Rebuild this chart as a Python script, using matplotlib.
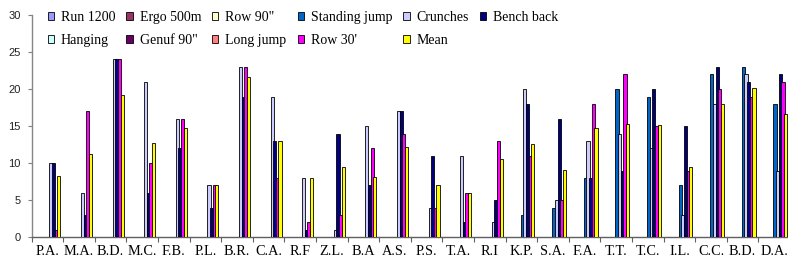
import matplotlib
matplotlib.use("Agg")
import matplotlib.pyplot as plt
from matplotlib.patches import Patch
import numpy as np

categories = ["P.A.", "M.A.", "B.D.", "M.C.", "F.B.", "P.L.", "B.R.", "C.A.", "R.F", "Z.L.",
              "B.A", "A.S.", "P.S.", "T.A.", "R.I", "K.P.", "S.A.", "F.A.", "T.T.", "T.C.",
              "I.L.", "C.C.", "B.D.", "D.A."]

series_names = ["Run 1200", "Ergo 500m", "Row 90\"", "Hanging", "Genuf 90\"", "Long jump",
                "Standing jump", "Crunches", "Bench back", "Row 30'", "Mean"]
series_colors = ["#9999FF", "#993366", "#FFFFCC", "#CCFFFF", "#660066", "#FF8080",
                 "#0066CC", "#CCCCFF", "#000080", "#FF00FF", "#FFFF00"]

run_1200 = [0] * 24
ergo_500m = [0] * 24
row_90 = [0] * 24
hanging = [0] * 24
genuf_90 = [0] * 24
long_jump = [0] * 24
standing_jump = [0, 0, 0, 0, 0, 0, 0, 0, 0, 0, 0, 0, 0, 0, 0, 3, 4, 8, 20, 19, 7, 22, 23, 18]
crunches = [10, 6, 24, 21, 16, 7, 23, 19, 8, 1, 15, 17, 4, 11, 2, 20, 5, 13, 14, 12, 3, 18, 22, 9]
bench_back = [10, 3, 24, 6, 12, 4, 19, 13, 1, 14, 7, 17, 11, 2, 5, 18, 16, 8, 9, 20, 15, 23, 21, 22]
row_30 = [1, 17, 24, 10, 16, 7, 23, 8, 2, 3, 12, 14, 4, 6, 13, 11, 5, 18, 22, 15, 9, 20, 19, 21]
mean = [8.3, 11.2, 19.2, 12.7, 14.7, 7.1, 21.6, 13.0, 8.0, 9.45, 8.1, 12.2, 7.0, 6.0, 10.6, 12.55,
        9.05, 14.7, 15.3, 15.2, 9.45, 18.0, 20.1, 16.7]

all_series = [run_1200, ergo_500m, row_90, hanging, genuf_90, long_jump,
              standing_jump, crunches, bench_back, row_30, mean]

W, H = 788, 263
fig = plt.figure(figsize=(W / 100, H / 100), dpi=100)
ax = fig.add_axes([31.7 / W, (H - 237.3) / H, (790 - 31.7) / W, (237.3 - 15) / H])

x = np.arange(len(categories))
bar_w = 0.1
step = 0.084
for k, (vals, col) in enumerate(zip(all_series, series_colors)):
    lws = [0.6 if v > 0 else 0 for v in vals]
    ax.bar(x + 0.025 + (k - 6) * step, vals, width=bar_w, color=col,
           edgecolor="black", linewidth=lws, zorder=2 + k)

ax.set_xlim(-0.5, len(categories) - 0.5)
ax.set_ylim(0, 30)
ax.set_yticks(range(0, 31, 5))
ax.set_xticks(x)
ax.set_xticklabels(categories, fontfamily="Liberation Serif", fontsize=10.3)
ax.set_xticks(np.arange(len(categories) + 1) - 0.5, minor=True)
ax.tick_params(axis="x", which="major", length=0, pad=5.5)
ax.tick_params(axis="x", which="minor", length=3.5, width=0.8, color="#606060", direction="out")
ax.tick_params(axis="y", length=3, width=0.8, color="#808080", pad=5, labelsize=8)
for lab in ax.get_yticklabels():
    lab.set_fontfamily("Liberation Sans")
    lab.set_color("#222222")

for s in ["top", "right"]:
    ax.spines[s].set_visible(False)
ax.spines["left"].set_color("#868686")
ax.spines["left"].set_linewidth(1.0)
ax.spines["bottom"].set_color("#606060")
ax.spines["bottom"].set_linewidth(1.0)

order = [0, 3, 1, 4, 2, 5, 6, 9, 7, 10, 8]
handles = [Patch(facecolor=series_colors[i], edgecolor="black", linewidth=0.6) for i in order]
labels = [series_names[i] for i in order]
leg = fig.legend(handles, labels, ncol=6, loc="upper left",
                 bbox_to_anchor=(47.5 / W, 1 - 11 / H), bbox_transform=fig.transFigure,
                 frameon=False, prop={"family": "Liberation Serif", "size": 10},
                 handlelength=0.45, handleheight=0.45, handletextpad=0.5,
                 columnspacing=0.8, labelspacing=0.7, borderpad=0, borderaxespad=0)

fig.savefig("out.png", dpi=100)
